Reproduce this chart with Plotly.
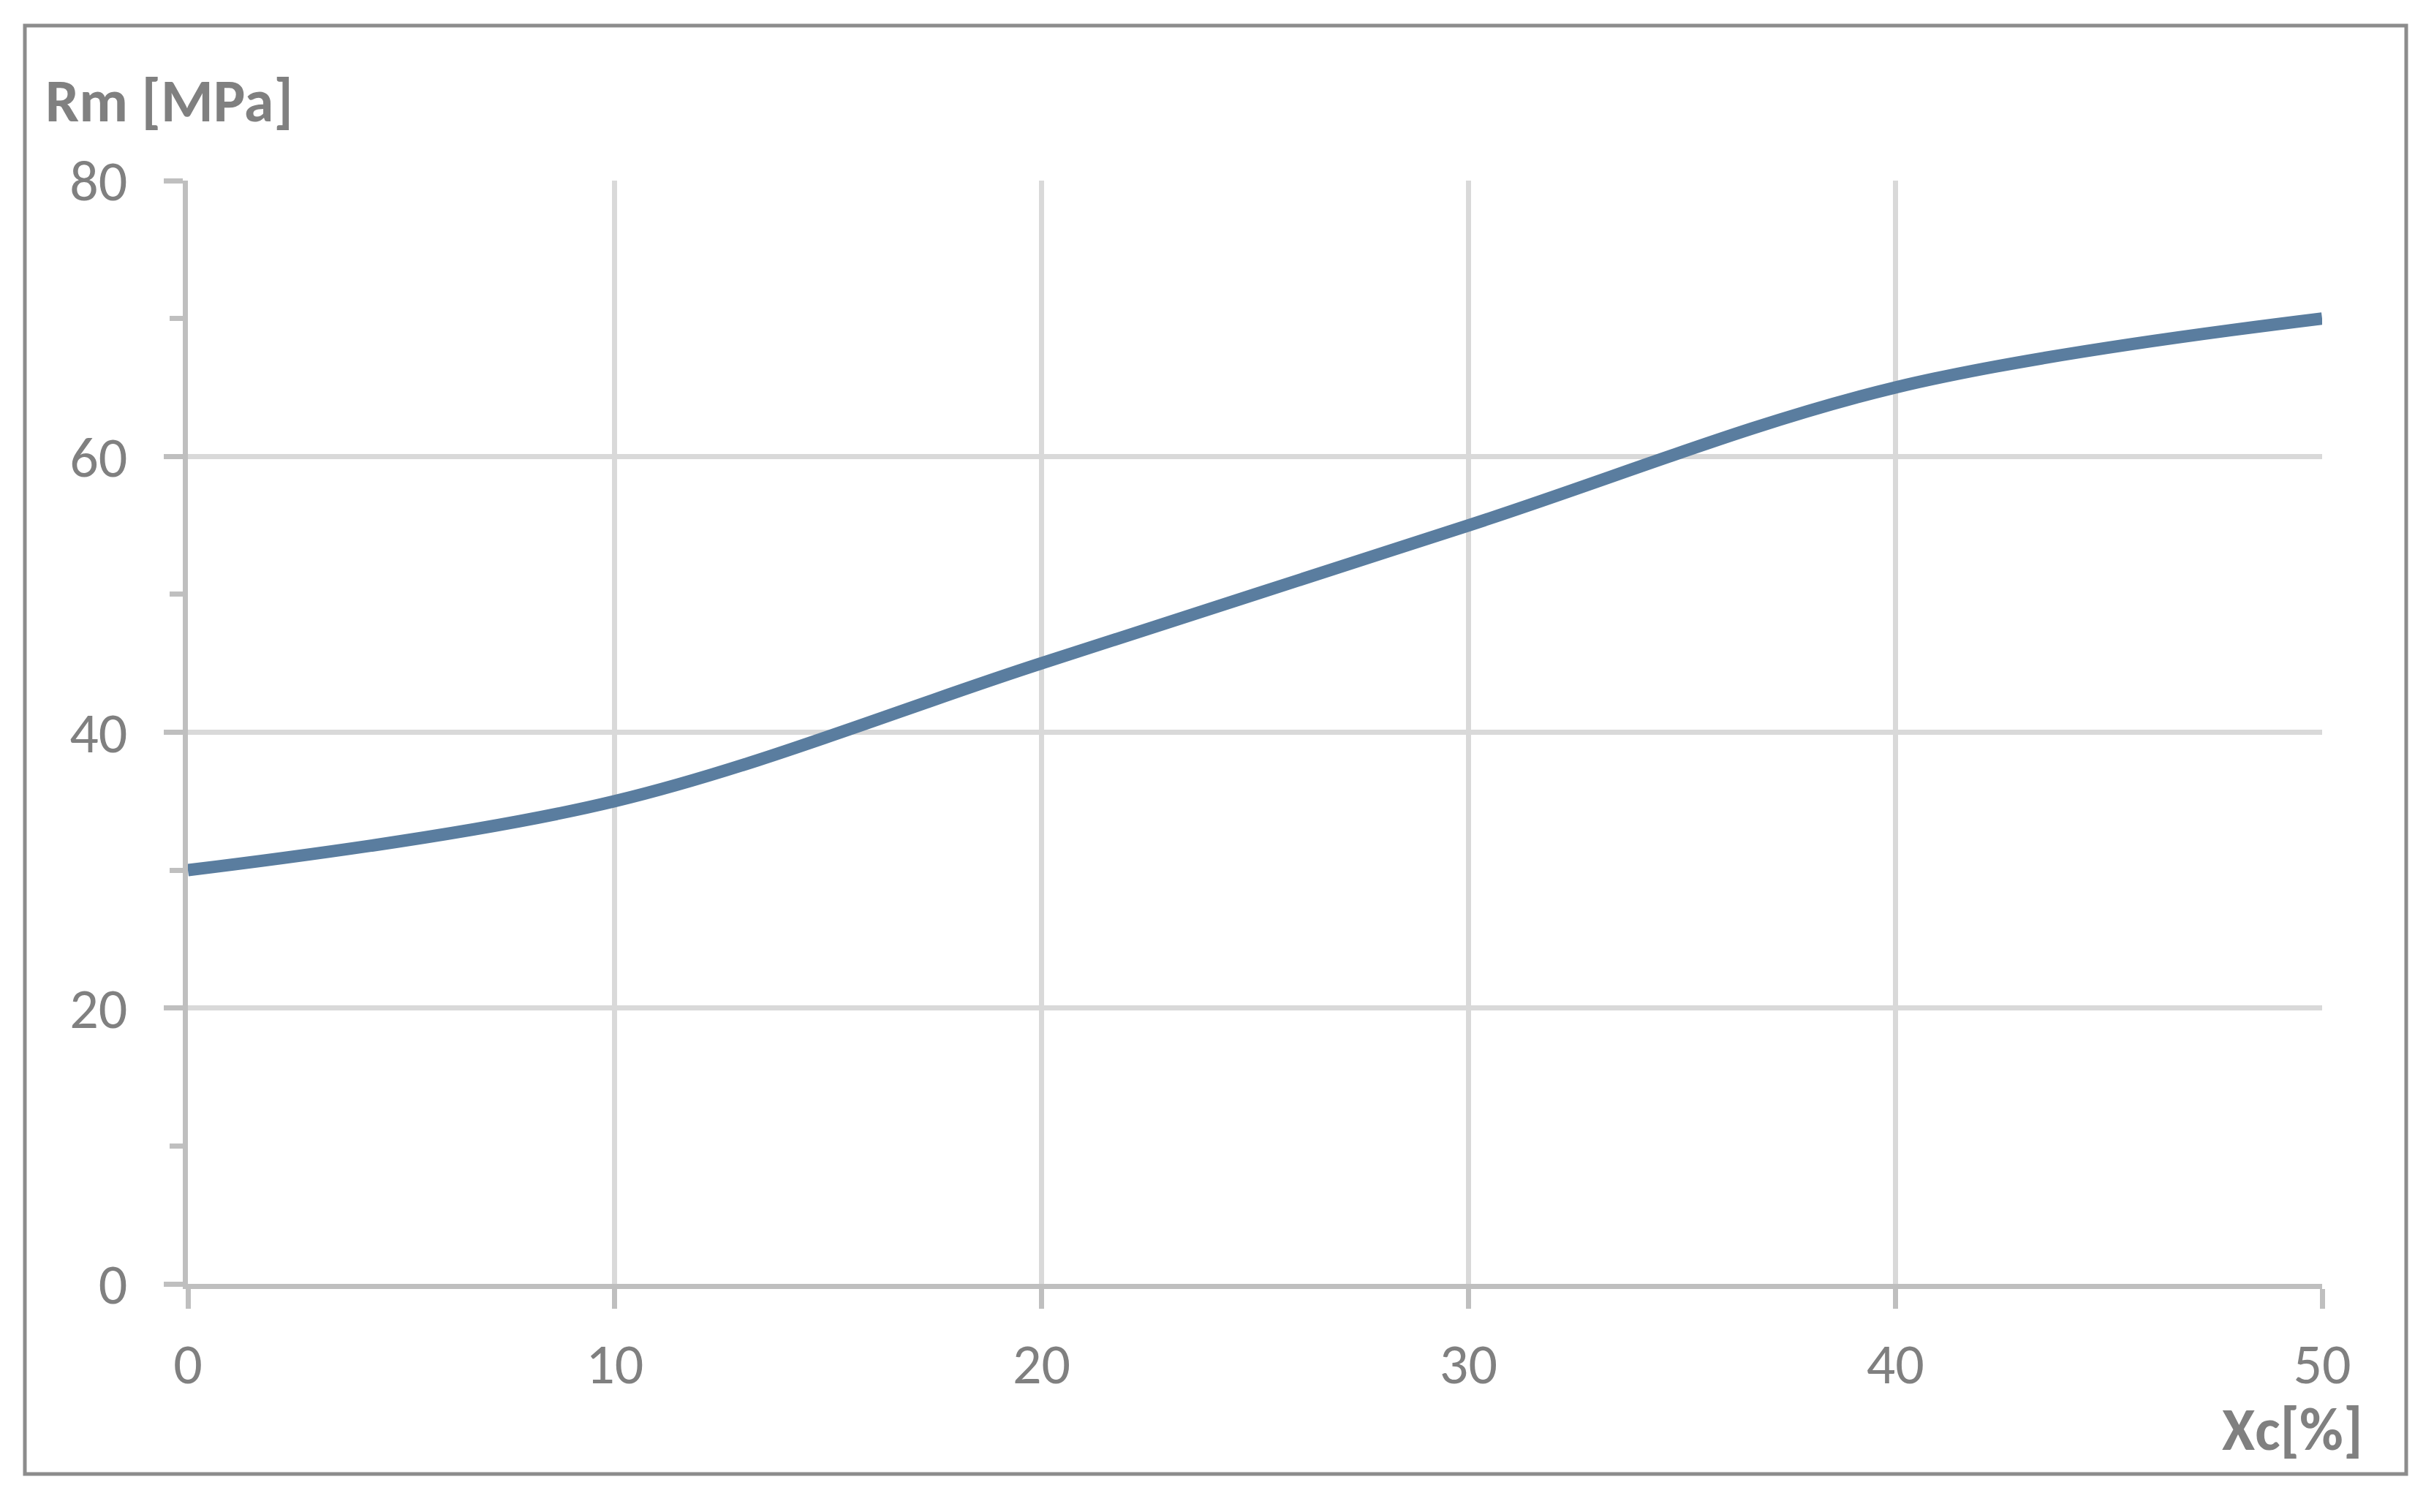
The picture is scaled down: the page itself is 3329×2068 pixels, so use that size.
import plotly.graph_objects as go

# values
xc_percent = [0, 10, 20, 30, 40, 50]
rm_mpa = [30, 35, 45, 55, 65, 70]

x_ticks = [0, 10, 20, 30, 40, 50]
y_ticks = [0, 20, 40, 60, 80]
y_minor_ticks = [10, 30, 50, 70]

# the page body has an 8px margin, so the figure is drawn 8px smaller/shifted
OFF = 8
W, H = 3329 - OFF, 2068 - OFF
# plot area in page pixels (as measured on the reference)
L, R, T, B = 257 - OFF, 3176 - OFF, 247 - OFF, 1756 - OFF

FONT = "Carlito, Calibri, Lato, sans-serif"
TEXT_GREY = "#808080"
GRID = "#d9d9d9"
AXIS = "#bfbfbf"
BORDER = "#8c8c8c"
LINE = "#5a7d9f"


def px_x(px):
    return (px - OFF - L) / (R - L)


def px_y(py):
    return (B - (py - OFF)) / (B - T)


fig = go.Figure()
fig.add_trace(go.Scatter(
    x=xc_percent, y=rm_mpa, mode="lines",
    line=dict(color=LINE, width=17, shape="spline", smoothing=1),
    showlegend=False, hoverinfo="x+y",
))

fig.update_layout(
    width=W, height=H,
    margin=dict(l=L, r=W - R, t=T, b=H - B),
    paper_bgcolor="white", plot_bgcolor="white",
    font=dict(family=FONT, color=TEXT_GREY, size=78),
)

fig.update_xaxes(
    range=[0, 50], tickvals=x_ticks, ticks="outside", ticklen=27, tickwidth=7,
    tickcolor=AXIS, showline=True, linecolor=AXIS, linewidth=7,
    showgrid=True, gridcolor=GRID, gridwidth=7, zeroline=False,
    tickfont=dict(family=FONT, size=78, color=TEXT_GREY),
    ticklabelstandoff=8,
)
fig.update_yaxes(
    range=[0, 80], tickvals=y_ticks, ticks="outside", ticklen=26, tickwidth=7,
    tickcolor=AXIS, showline=True, linecolor=AXIS, linewidth=7,
    showgrid=True, gridcolor=GRID, gridwidth=7, zeroline=False,
    tickfont=dict(family=FONT, size=78, color=TEXT_GREY),
    ticklabelstandoff=34,
    minor=dict(tickvals=y_minor_ticks, ticks="outside", ticklen=18,
               tickwidth=7, tickcolor=AXIS, showgrid=False),
)

# axis titles
fig.add_annotation(
    text="<b>Rm [MPa]</b>", xref="paper", yref="paper",
    x=px_x(60), y=px_y(138), xanchor="left", yanchor="middle",
    showarrow=False, font=dict(family=FONT, size=82, color=TEXT_GREY),
)
fig.add_annotation(
    text="<b>Xc[%]</b>", xref="paper", yref="paper",
    x=px_x(3234), y=px_y(1955), xanchor="right", yanchor="middle",
    showarrow=False, font=dict(family=FONT, size=82, color=TEXT_GREY),
)

# chart border
fig.add_shape(
    type="rect", xref="paper", yref="paper",
    x0=px_x(34), x1=px_x(3291), y0=px_y(35), y1=px_y(2016),
    line=dict(color=BORDER, width=5), fillcolor="rgba(0,0,0,0)", layer="below",
)

fig.write_html("out.html")
